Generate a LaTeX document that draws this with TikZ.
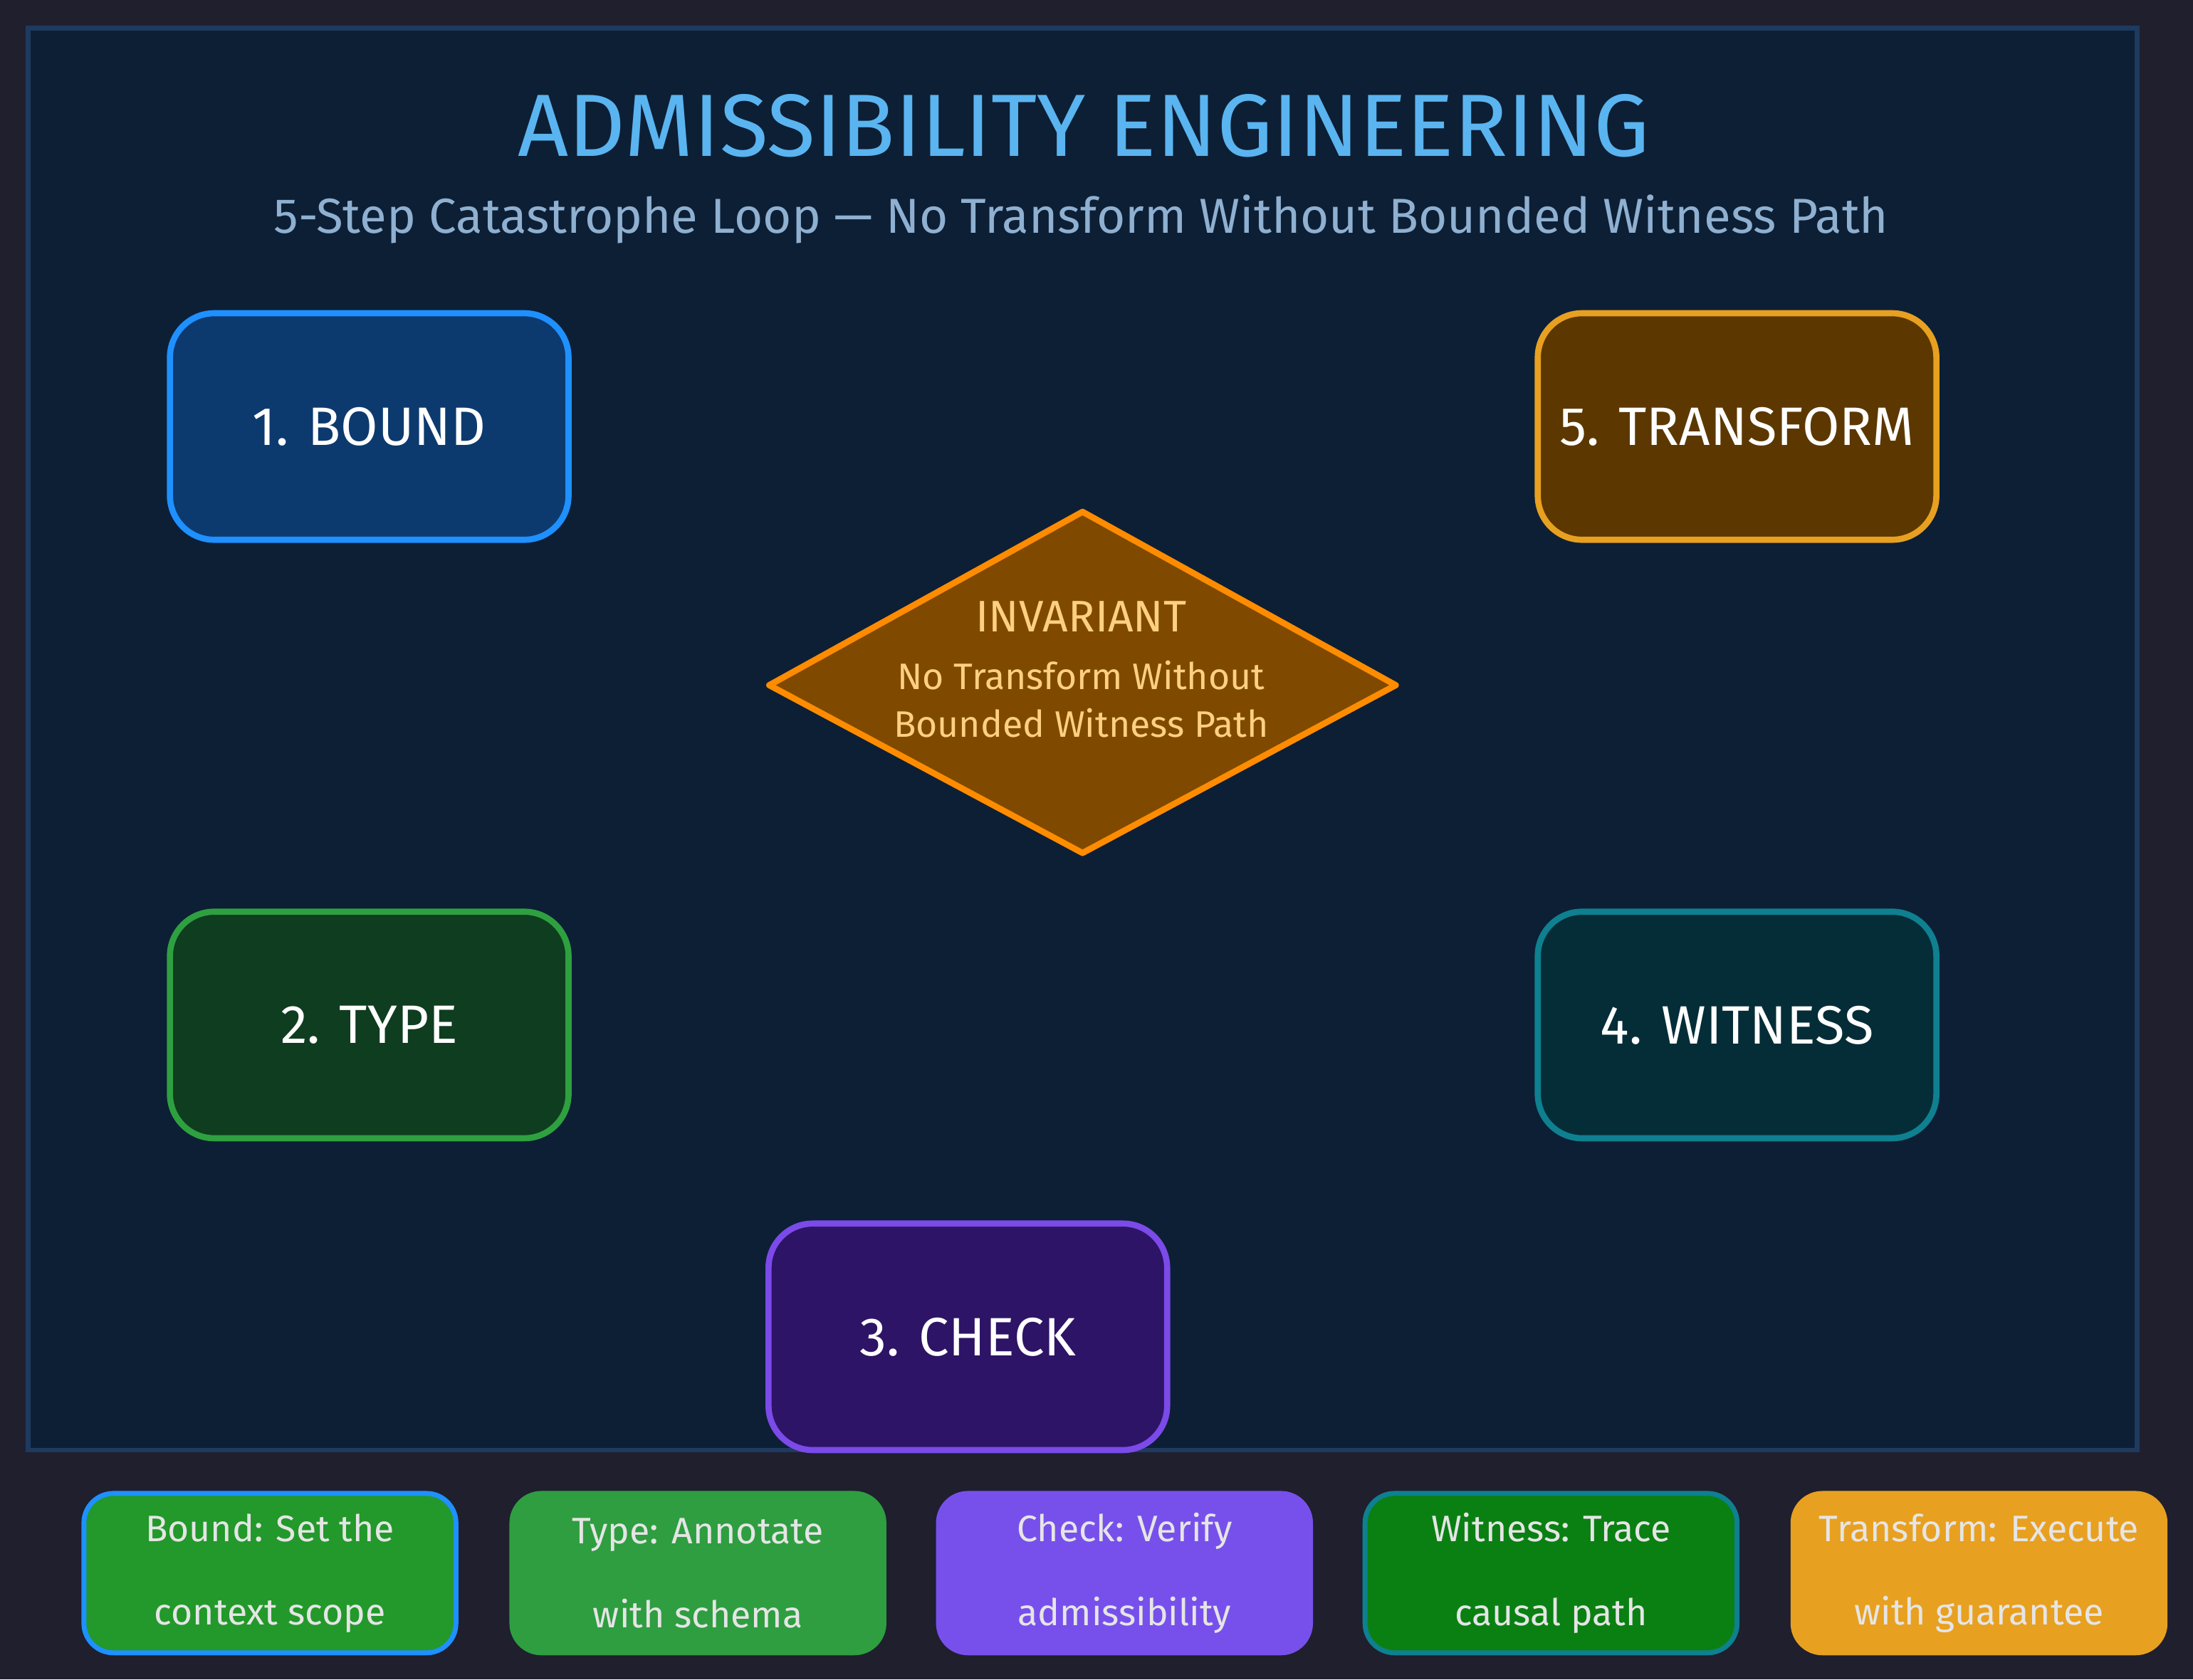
\documentclass[tikz,border=0pt]{standalone}
\usepackage{fontspec}
\setmainfont{Fira Sans}
\usetikzlibrary{shapes.geometric}
\definecolor{bgc}{HTML}{1F1F2E}
\definecolor{framef}{HTML}{0D1F35}
\definecolor{framed}{HTML}{1E3A5F}
\tikzset{
  stepbox/.style={draw, line width=2.5pt, rounded corners=18pt, minimum width=285*0.02cm, minimum height=162*0.02cm, text=white, font=\fontsize{22}{26}\selectfont},
  legbox/.style={draw, line width=2pt, rounded corners=12pt, minimum width=266*0.02cm, minimum height=114*0.02cm, text=white!90!black, align=center, font=\fontsize{15}{34}\selectfont},
}
\begin{document}
\begin{tikzpicture}[x=0.02cm,y=-0.02cm]
\useasboundingbox (0,0) rectangle (1568,1201);
\fill[bgc] (0,0) rectangle (1568,1201);
\draw[framed, fill=framef, line width=2pt] (20,20) rectangle (1528,1037);
\node[text=HTML-dummy!0, text={rgb,255:red,90;green,180;blue,240}, font=\fontsize{36}{40}\selectfont] (title) at (775,90) {ADMISSIBILITY ENGINEERING};
\node[text={rgb,255:red,143;green,176;blue,208}, font=\fontsize{20}{24}\selectfont] (sub) at (773,157) {5-Step Catastrophe Loop — No Transform Without Bounded Witness Path};
\node[stepbox, fill={rgb,255:red,13;green,58;blue,110}, draw={rgb,255:red,30;green,144;blue,255}] (b1) at (264,305) {1. BOUND};
\node[stepbox, fill={rgb,255:red,92;green,56;blue,0}, draw={rgb,255:red,232;green,160;blue,32}] (b5) at (1242,305) {5. TRANSFORM};
\node[stepbox, fill={rgb,255:red,15;green,61;blue,31}, draw={rgb,255:red,46;green,160;blue,64}] (b2) at (264,733) {2. TYPE};
\node[stepbox, fill={rgb,255:red,5;green,45;blue,56}, draw={rgb,255:red,14;green,128;blue,144}] (b4) at (1242,733) {4. WITNESS};
\node[stepbox, fill={rgb,255:red,45;green,20;blue,102}, draw={rgb,255:red,123;green,74;blue,232}] (b3) at (692,956) {3. CHECK};
\draw[line width=2.5pt, draw={rgb,255:red,255;green,140;blue,0}, fill={rgb,255:red,127;green,74;blue,0}, line join=round]
  (774,366) coordinate (dt) -- (998,490) coordinate (dr) -- (774,610) coordinate (db) -- (550,490) coordinate (dl) -- cycle;
\node[text={rgb,255:red,255;green,208;blue,128}, font=\fontsize{18}{22}\selectfont] (inv) at (773,441) {INVARIANT};
\node[text={rgb,255:red,255;green,208;blue,128}, font=\fontsize{15}{18}\selectfont] (inv1) at (773,483) {No Transform Without};
\node[text={rgb,255:red,255;green,208;blue,128}, font=\fontsize{15}{18}\selectfont] (inv2) at (773,517) {Bounded Witness Path};
\node[legbox, fill={rgb,255:red,34;green,153;blue,42}, draw={rgb,255:red,30;green,144;blue,255}] (l1) at (193,1125) {Bound: Set the\\context scope};
\node[legbox, fill={rgb,255:red,46;green,158;blue,64}, draw={rgb,255:red,46;green,158;blue,64}] (l2) at (499,1125) {Type: Annotate\\with schema};
\node[legbox, fill={rgb,255:red,119;green,80;blue,236}, draw={rgb,255:red,119;green,80;blue,236}] (l3) at (804,1125) {Check: Verify\\admissibility};
\node[legbox, fill={rgb,255:red,10;green,128;blue,18}, draw={rgb,255:red,14;green,128;blue,144}] (l4) at (1109,1125) {Witness: Trace\\causal path};
\node[legbox, fill={rgb,255:red,232;green,160;blue,32}, draw={rgb,255:red,232;green,160;blue,32}] (l5) at (1415,1125) {Transform: Execute\\with guarantee};
\end{tikzpicture}
\end{document}
